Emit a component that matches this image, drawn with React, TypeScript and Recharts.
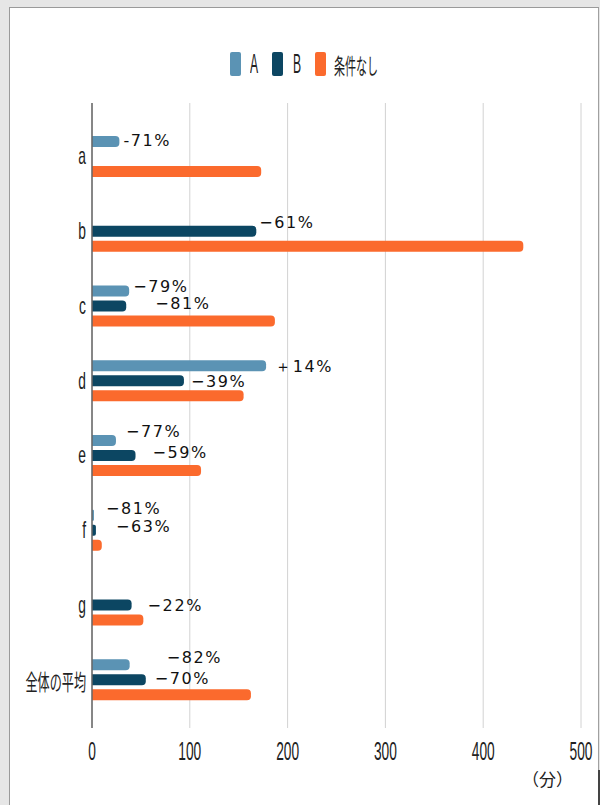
import React from "react";
import { BarChart, Bar, XAxis, YAxis, CartesianGrid, LabelList } from "recharts";

const categories = ["a", "b", "c", "d", "e", "f", "g", "全体の平均"];
const seriesA = [28, null, 38, 178, 24.5, 2, null, 38.5];
const seriesB = [null, 168, 35, 94, 44.5, 4, 40.5, 55];
const seriesNone = [173, 441, 187, 155, 111.5, 10, 52.5, 162.5];
const labelsA = ["-71%", null, "−79%", "＋14%", "−77%", "−81%", null, "−82%"];
const labelsB = [null, "−61%", "−81%", "−39%", "−59%", "−63%", "−22%", "−70%"];
const xTicks = [0, 100, 200, 300, 400, 500];

// the original labels were nudged by hand, px from bar end / bar centre
const shiftA = [[4, -1], [0, 0], [4, -5], [9, 1], [10, -9], [12, -7], [0, 0], [37, -7]];
const shiftB = [[0, 0], [3, -9], [29, -3], [7, 1], [17, -3], [20, -4], [16, 0], [9, -1]];

const COLOR_A = "#5b93b4";
const COLOR_B = "#0c4662";
const COLOR_NONE = "#fb6a2d";
const NARROW = "'Liberation Sans Narrow', 'Liberation Sans', Arial, sans-serif";

const data = categories.map((name, i) => ({
  name,
  A: seriesA[i],
  B: seriesB[i],
  none: seriesNone[i],
}));

const legendItems = [
  { name: "A", color: COLOR_A, left: 230, textLeft: 250 },
  { name: "B", color: COLOR_B, left: 272, textLeft: 293 },
  { name: "条件なし", color: COLOR_NONE, left: 315, textLeft: 334 },
];

const isCjk = (s: string) => /[^\x00-\x7f]/.test(s);

// value passed in is the category name, so the index is stable even when nulls are skipped
const makeLabel = (labels: (string | null)[], shifts: number[][]) => (props: any) => {
  const { x, y, width, height, value } = props;
  const i = categories.indexOf(value);
  const text = labels[i];
  if (text == null || x == null) return null;
  const [dx, dy] = shifts[i];
  return (
    <text
      x={Number(x) + Number(width) + dx}
      y={Number(y) + Number(height) / 2 + dy}
      dominantBaseline="central"
      fontFamily="'DejaVu Sans', sans-serif"
      fontSize={16}
      letterSpacing={1.6}
      fill="#111"
    >
      {text}
    </text>
  );
};

const CategoryTick = (props: any) => {
  const { x, y, payload } = props;
  const cjk = isCjk(payload.value);
  return (
    <g transform={`translate(${x},${y})`}>
      <text
        x={0}
        y={0}
        textAnchor="end"
        dominantBaseline="central"
        transform={`scale(${cjk ? 0.55 : 0.6},1)`}
        fontFamily={cjk ? "'Noto Sans CJK JP', sans-serif" : NARROW}
        fontSize={cjk ? 22 : 23}
        fill="#222"
      >
        {payload.value}
      </text>
    </g>
  );
};

const ValueTick = (props: any) => {
  const { x, y, payload } = props;
  return (
    <g transform={`translate(${x},${y})`}>
      <text
        x={0}
        y={0}
        dy={24}
        textAnchor="middle"
        transform="scale(0.55,1)"
        fontFamily={NARROW}
        fontSize={25}
        fill="#222"
      >
        {payload.value}
      </text>
    </g>
  );
};

export default function App() {
  return (
    <div
      style={{
        position: "absolute",
        left: 0,
        top: 0,
        width: 600,
        height: 805,
        background: "#e6e6e6",
        overflow: "hidden",
      }}
    >
      <div
        style={{
          position: "absolute",
          left: 9,
          top: 7,
          width: 588,
          height: 820,
          background: "#fff",
          borderLeft: "1px solid #9a9a9a",
          borderTop: "1px solid #9a9a9a",
          borderRight: "1px solid #a0a0a0",
        }}
      />
      <div
        style={{
          position: "absolute",
          left: 598,
          top: 770,
          width: 2,
          height: 40,
          background: "#444",
        }}
      />

      {legendItems.map((item) => (
        <React.Fragment key={item.name}>
          <div
            style={{
              position: "absolute",
              left: item.left,
              top: 52,
              width: 11,
              height: 24,
              borderRadius: 2,
              background: item.color,
            }}
          />
          <div
            style={{
              position: "absolute",
              left: item.textLeft,
              top: 49,
              lineHeight: "30px",
              fontSize: isCjk(item.name) ? 22 : 27,
              fontFamily: isCjk(item.name) ? "'Noto Sans CJK JP', sans-serif" : NARROW,
              color: "#222",
              transform: `scaleX(${isCjk(item.name) ? 0.5 : 0.45})`,
              transformOrigin: "left center",
              whiteSpace: "nowrap",
            }}
          >
            {item.name}
          </div>
        </React.Fragment>
      ))}

      <div
        style={{
          position: "absolute",
          left: 522,
          top: 767,
          fontSize: 17,
          lineHeight: "24px",
          fontFamily: "'Noto Sans CJK JP', sans-serif",
          color: "#222",
          whiteSpace: "nowrap",
        }}
      >
        （分）
      </div>

      <div style={{ position: "absolute", left: 0, top: 0 }}>
        <BarChart
          width={600}
          height={805}
          data={data}
          layout="vertical"
          margin={{ top: 103, right: 19, bottom: 47, left: 0 }}
          barSize={11}
          barGap={4}
        >
          <CartesianGrid horizontal={false} vertical stroke="#d2d2d2" />
          <XAxis
            type="number"
            domain={[0, 500]}
            ticks={xTicks}
            axisLine={false}
            tickLine={false}
            height={30}
            tick={<ValueTick />}
          />
          <YAxis
            type="category"
            dataKey="name"
            width={92}
            padding={{ top: 16, bottom: 11 }}
            axisLine={{ stroke: "#666", strokeWidth: 1.5 }}
            tickLine={false}
            tickSize={4}
            tickMargin={2}
            tick={<CategoryTick />}
          />
          <Bar dataKey="A" fill={COLOR_A} radius={[0, 4, 4, 0]} isAnimationActive={false}>
            <LabelList dataKey="name" content={makeLabel(labelsA, shiftA)} />
          </Bar>
          <Bar dataKey="B" fill={COLOR_B} radius={[0, 4, 4, 0]} isAnimationActive={false}>
            <LabelList dataKey="name" content={makeLabel(labelsB, shiftB)} />
          </Bar>
          <Bar dataKey="none" fill={COLOR_NONE} radius={[0, 4, 4, 0]} isAnimationActive={false} />
        </BarChart>
      </div>
    </div>
  );
}
